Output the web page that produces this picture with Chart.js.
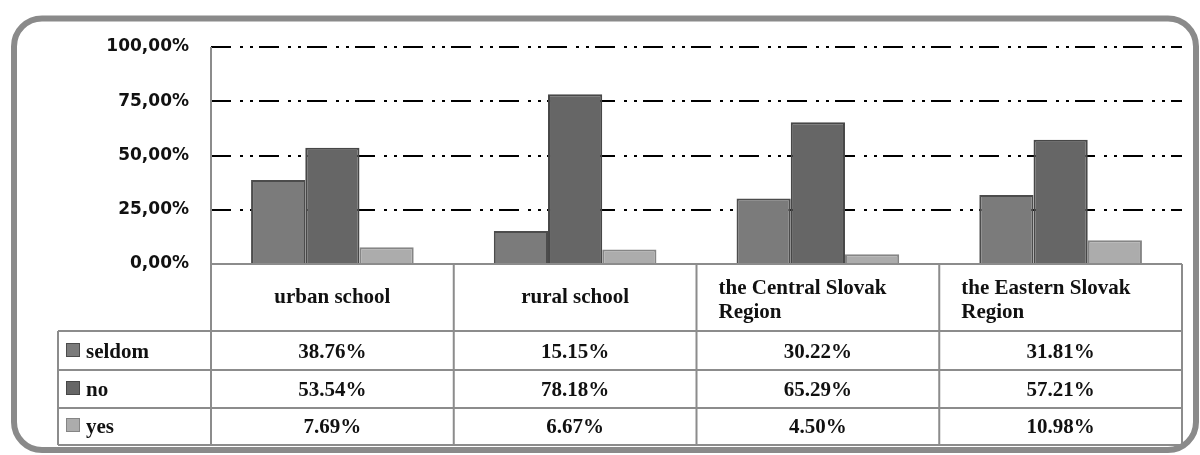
<!DOCTYPE html>
<html>
<head>
<meta charset="utf-8">
<script src="https://cdn.jsdelivr.net/npm/chart.js@4/dist/chart.umd.min.js"></script>
<style>
  html, body { margin: 0; padding: 0; background: #fff; }
  #chart { display: block; }
</style>
</head>
<body>
<canvas id="chart" width="1200" height="455"></canvas>
<script>
// categories along the x axis (multi-line ones wrap inside their table cell)
const categories = ['urban school', 'rural school', ['the Central Slovak', 'Region'], ['the Eastern Slovak', 'Region']];

const seriesNames = ['seldom', 'no', 'yes'];
const seldomValues = [38.76, 15.15, 30.22, 31.81];
const noValues = [53.54, 78.18, 65.29, 57.21];
const yesValues = [7.69, 6.67, 4.50, 10.98];

const yMin = 0;
const yMax = 100;
const yStep = 25;

const fills = ['#7b7b7b', '#666666', '#acacac'];
const edges = ['#4c4c4c', '#474747', '#858585'];

const lineGray = '#8c8c8c';
const serif = '"Liberation Serif", "Times New Roman", serif';

// table row geometry, below the plot
const headerBottom = 331;
const rowBottoms = [370, 408, 445];
const rowBaselines = [358, 396, 433];
const tableLeft = 58;

function formatTick(v) {
	return v.toFixed(2).replace('.', ',') + '%';
}

const frameAndTable = {
	id: 'frameAndTable',
	beforeDraw(chart) {
		const ctx = chart.ctx;
		ctx.save();
		ctx.strokeStyle = '#8a8a8a';
		ctx.lineWidth = 6;
		ctx.beginPath();
		ctx.roundRect(14, 18.5, 1182, 431.5, 28);
		ctx.stroke();
		ctx.restore();
	},
	afterDraw(chart) {
		const ctx = chart.ctx;
		const area = chart.chartArea;
		const x = chart.scales.x;
		const half = (area.right - area.left) / categories.length / 2;
		const datasets = chart.data.datasets;

		ctx.save();
		ctx.strokeStyle = lineGray;
		ctx.lineWidth = 2;
		ctx.beginPath();
		// axis line down through the table
		ctx.moveTo(area.left, area.top);
		ctx.lineTo(area.left, rowBottoms[rowBottoms.length - 1]);
		// header row top
		ctx.moveTo(area.left, area.bottom);
		ctx.lineTo(area.right, area.bottom);
		// row lines
		for (const y of [headerBottom].concat(rowBottoms)) {
			ctx.moveTo(tableLeft, y);
			ctx.lineTo(area.right, y);
		}
		ctx.moveTo(tableLeft, headerBottom);
		ctx.lineTo(tableLeft, rowBottoms[rowBottoms.length - 1]);
		categories.forEach((c, i) => {
			const right = x.getPixelForValue(i) + half;
			ctx.moveTo(right, area.bottom);
			ctx.lineTo(right, rowBottoms[rowBottoms.length - 1]);
		});
		ctx.stroke();

		ctx.fillStyle = '#111';
		ctx.font = 'bold 21px ' + serif;
		ctx.textBaseline = 'alphabetic';

		// header cells
		categories.forEach((c, i) => {
			const cx = x.getPixelForValue(i);
			if (Array.isArray(c)) {
				ctx.textAlign = 'left';
				ctx.fillText(c[0], cx - half + 22, 294);
				ctx.fillText(c[1], cx - half + 22, 318);
			} else {
				ctx.textAlign = 'center';
				ctx.fillText(c, cx, 303);
			}
		});

		// series rows: legend key, name, values
		datasets.forEach((ds, r) => {
			const base = rowBaselines[r];
			ctx.fillStyle = ds.backgroundColor;
			ctx.fillRect(66, base - 15, 14, 14);
			ctx.strokeStyle = ds.borderColor;
			ctx.lineWidth = 1;
			ctx.strokeRect(66.5, base - 14.5, 13, 13);

			ctx.fillStyle = '#111';
			ctx.textAlign = 'left';
			ctx.fillText(ds.label, 86, base);
			ctx.textAlign = 'center';
			ds.data.forEach((v, i) => {
				ctx.fillText(v.toFixed(2) + '%', x.getPixelForValue(i), base);
			});
		});
		ctx.restore();
	}
};

const seriesValues = [seldomValues, noValues, yesValues];

new Chart(document.getElementById('chart'), {
	type: 'bar',
	data: {
		labels: categories,
		datasets: seriesNames.map((name, k) => ({
			label: name,
			data: seriesValues[k],
			backgroundColor: fills[k],
			borderColor: edges[k],
			borderWidth: 2,
			barPercentage: 1,
			categoryPercentage: 0.67
		}))
	},
	options: {
		responsive: false,
		animation: false,
		devicePixelRatio: 1,
		layout: { padding: { top: 47, bottom: 191, left: 0, right: 18 } },
		plugins: {
			legend: { display: false },
			tooltip: { enabled: false }
		},
		scales: {
			x: {
				display: false
			},
			y: {
				min: yMin,
				max: yMax,
				afterFit: (scale) => { scale.width = 211; },
				ticks: {
					stepSize: yStep,
					padding: 22,
					color: '#111',
					font: { family: 'DejaVu Sans', size: 17, weight: 'bold' },
					callback: (v) => formatTick(v)
				},
				grid: {
					drawTicks: false,
					lineWidth: 2,
					color: (c) => (c.tick && c.tick.value === 0) ? 'rgba(0,0,0,0)' : '#000'
				},
				border: {
					display: false,
					dash: [20, 9, 3, 7, 3, 6]
				}
			}
		}
	},
	plugins: [frameAndTable]
});
</script>
</body>
</html>
